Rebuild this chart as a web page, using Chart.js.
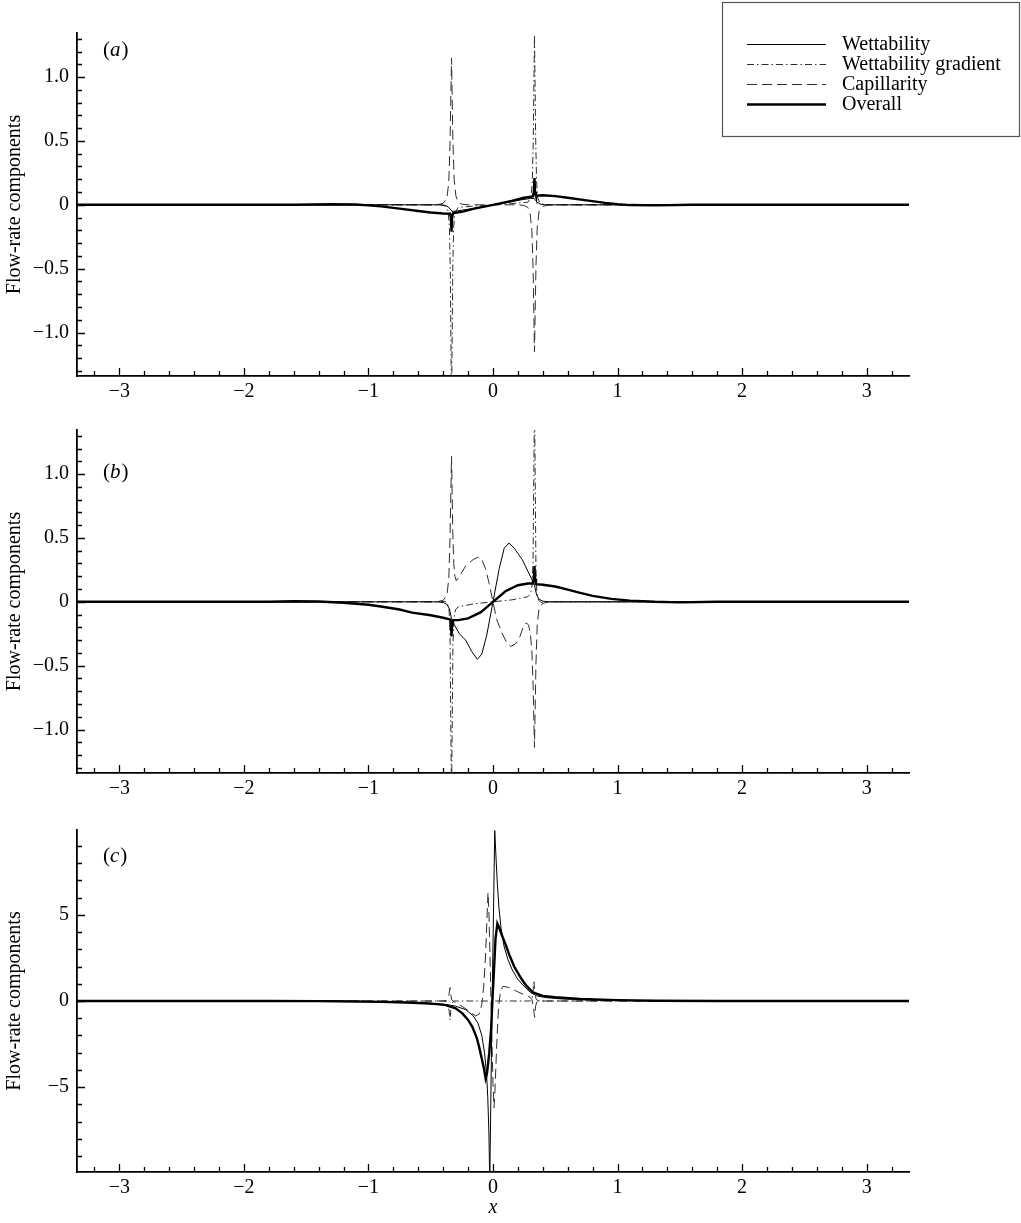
<!DOCTYPE html>
<html>
<head>
<meta charset="utf-8">
<script src="https://cdn.jsdelivr.net/npm/chart.js@4.4.1/dist/chart.umd.min.js"></script>
<style>
  html, body { margin: 0; padding: 0; background: #fff; }
  #wrap { position: relative; width: 1021px; height: 1223px; }
  canvas { position: absolute; left: 0; }
</style>
</head>
<body>
<div id="wrap">
  <canvas id="panel-a" width="1021" height="410" style="top:0"></canvas>
  <canvas id="panel-b" width="1021" height="400" style="top:410px"></canvas>
  <canvas id="panel-c" width="1021" height="413" style="top:810px"></canvas>
</div>
<script>
// Séries et axes
const SERIES = ['Wettability', 'Wettability gradient', 'Capillarity', 'Overall'];
const X_TICKS = [-3, -2, -1, 0, 1, 2, 3];
const X_LABELS = ['\u22123', '\u22122', '\u22121', '0', '1', '2', '3'];
const Y_TICKS_AB = [-1, -0.5, 0, 0.5, 1];
const Y_LABELS_AB = ['\u22121.0', '\u22120.5', '0', '0.5', '1.0'];
const Y_TICKS_C = [-5, 0, 5];
const Y_LABELS_C = ['\u22125', '0', '5'];

// Panneau (a)
const wetA = [[-3.34,0],[-0.42,0],[-0.38,-0.005],[-0.355,-0.02],[-0.338,-0.04],[-0.33,-0.05],[-0.3,-0.05],[-0.2,-0.035],[-0.1,-0.018],[0,0],[0.1,0.018],[0.2,0.035],[0.3,0.05],[0.33,0.05],[0.338,0.04],[0.355,0.02],[0.38,0.005],[0.42,0],[3.34,0]];
const gradA = [[-3.34,0],[-0.42,0],[-0.38,-0.01],[-0.36,-0.05],[-0.35,-0.18],[-0.343,-0.5],[-0.333,-1.6],[-0.323,-0.5],[-0.316,-0.18],[-0.305,-0.06],[-0.28,-0.02],[-0.15,-0.01],[0,0],[0.15,0.01],[0.28,0.02],[0.305,0.06],[0.316,0.18],[0.323,0.5],[0.333,1.33],[0.343,0.5],[0.35,0.18],[0.36,0.05],[0.38,0.01],[0.42,0],[3.34,0]];
const capA = [[-3.34,0],[-0.45,0],[-0.4,0.012],[-0.37,0.05],[-0.355,0.18],[-0.345,0.48],[-0.333,1.15],[-0.322,0.5],[-0.312,0.2],[-0.298,0.07],[-0.28,0.02],[-0.25,0.005],[-0.2,0],[0.2,0],[0.25,-0.005],[0.28,-0.02],[0.298,-0.07],[0.312,-0.2],[0.322,-0.5],[0.333,-1.15],[0.345,-0.48],[0.355,-0.18],[0.37,-0.05],[0.4,-0.012],[0.45,0],[3.34,0]];
const overallA = [[-3.34,0],[-1.6,0],[-1.3,0.004],[-1.1,0.002],[-1.0,-0.004],[-0.9,-0.012],[-0.75,-0.03],[-0.6,-0.048],[-0.5,-0.06],[-0.4,-0.068],[-0.345,-0.07],[-0.338,-0.1],[-0.333,-0.21],[-0.328,-0.1],[-0.32,-0.065],[-0.25,-0.055],[-0.15,-0.03],[0,0],[0.15,0.03],[0.25,0.055],[0.32,0.065],[0.328,0.1],[0.333,0.21],[0.338,0.1],[0.345,0.072],[0.4,0.075],[0.5,0.068],[0.6,0.055],[0.75,0.035],[0.9,0.015],[1.0,0.004],[1.1,-0.002],[1.3,-0.004],[1.6,0],[3.34,0]];

// Panneau (b)
const wetB = [[-3.34,0],[-0.45,0],[-0.4,-0.005],[-0.37,-0.02],[-0.35,-0.055],[-0.333,-0.13],[-0.31,-0.18],[-0.27,-0.25],[-0.22,-0.3],[-0.17,-0.39],[-0.126,-0.45],[-0.09,-0.41],[-0.05,-0.26],[0,0],[0.05,0.26],[0.09,0.42],[0.128,0.46],[0.17,0.42],[0.235,0.33],[0.28,0.24],[0.315,0.17],[0.333,0.13],[0.35,0.055],[0.37,0.02],[0.4,0.005],[0.45,0],[3.34,0]];
const gradB = [[-3.34,0],[-0.42,0],[-0.385,0.005],[-0.365,-0.015],[-0.352,-0.07],[-0.345,-0.25],[-0.333,-1.6],[-0.322,-0.35],[-0.314,-0.13],[-0.3,-0.06],[-0.28,-0.04],[-0.15,-0.015],[0,0],[0.15,0.015],[0.28,0.04],[0.3,0.06],[0.314,0.13],[0.322,0.35],[0.333,1.6],[0.345,0.25],[0.352,0.07],[0.365,0.015],[0.385,-0.005],[0.42,0],[3.34,0]];
const capB = [[-3.34,0],[-0.45,0],[-0.4,0.012],[-0.37,0.05],[-0.355,0.18],[-0.345,0.5],[-0.333,1.14],[-0.323,0.55],[-0.315,0.3],[-0.306,0.2],[-0.295,0.165],[-0.27,0.2],[-0.22,0.28],[-0.16,0.33],[-0.12,0.35],[-0.09,0.33],[-0.06,0.26],[-0.03,0.14],[0,0],[0.03,-0.14],[0.075,-0.25],[0.11,-0.32],[0.142,-0.35],[0.18,-0.33],[0.21,-0.29],[0.245,-0.19],[0.265,-0.165],[0.285,-0.18],[0.3,-0.25],[0.312,-0.38],[0.322,-0.65],[0.333,-1.14],[0.345,-0.48],[0.355,-0.18],[0.37,-0.05],[0.4,-0.012],[0.45,0],[3.34,0]];
const overallB = [[-3.34,0],[-1.8,0],[-1.6,0.004],[-1.4,0.002],[-1.2,-0.007],[-1.0,-0.023],[-0.9,-0.037],[-0.75,-0.06],[-0.65,-0.085],[-0.5,-0.105],[-0.4,-0.125],[-0.345,-0.138],[-0.338,-0.18],[-0.333,-0.27],[-0.328,-0.18],[-0.32,-0.143],[-0.28,-0.143],[-0.2,-0.13],[-0.1,-0.083],[0,0],[0.1,0.083],[0.2,0.13],[0.28,0.143],[0.32,0.143],[0.328,0.18],[0.333,0.28],[0.338,0.18],[0.345,0.138],[0.4,0.134],[0.5,0.12],[0.6,0.095],[0.7,0.07],[0.8,0.046],[0.95,0.023],[1.1,0.009],[1.3,0],[1.5,-0.004],[1.8,0],[3.34,0]];

// Panneau (c)
const wetC = [[-3.34,0],[-1.8,0],[-1.4,-0.01],[-1.1,-0.025],[-0.9,-0.04],[-0.7,-0.07],[-0.55,-0.11],[-0.45,-0.15],[-0.38,-0.2],[-0.3,-0.3],[-0.22,-0.5],[-0.16,-0.85],[-0.12,-1.3],[-0.09,-2.0],[-0.068,-3.0],[-0.052,-4.2],[-0.042,-5.6],[-0.033,-7.6],[-0.026,-10.5],[-0.007,0],[0.014,9.9],[0.025,8.2],[0.035,6.8],[0.048,5.4],[0.065,4.2],[0.088,3.2],[0.12,2.4],[0.155,1.8],[0.2,1.25],[0.25,0.85],[0.3,0.5],[0.35,0.3],[0.42,0.2],[0.55,0.12],[0.75,0.07],[1.0,0.04],[1.3,0.015],[1.8,0],[3.34,0]];
const gradC = [[-3.34,0],[-0.42,0],[-0.375,-0.03],[-0.36,-0.2],[-0.352,-0.6],[-0.345,-1.1],[-0.338,-0.45],[-0.328,-0.1],[-0.31,0],[0.3,0],[0.313,0.1],[0.321,0.45],[0.328,1.2],[0.336,0.5],[0.345,0.12],[0.36,0.02],[0.4,0],[3.34,0]];
const capC = [[-3.34,0],[-0.42,0],[-0.375,0.03],[-0.36,0.15],[-0.352,0.45],[-0.345,0.78],[-0.338,0.3],[-0.33,0.05],[-0.31,-0.05],[-0.26,-0.25],[-0.2,-0.55],[-0.14,-0.87],[-0.11,-0.75],[-0.09,-0.2],[-0.075,0.8],[-0.06,2.6],[-0.05,4.5],[-0.04,6.3],[-0.033,5.2],[-0.022,2.0],[-0.01,-2.0],[0,-4.8],[0.008,-6.2],[0.016,-5.2],[0.03,-2.5],[0.045,-0.3],[0.06,0.55],[0.08,0.85],[0.12,0.8],[0.18,0.6],[0.24,0.4],[0.29,0.25],[0.313,0.1],[0.321,-0.25],[0.328,-0.6],[0.334,-0.95],[0.342,-0.3],[0.352,-0.05],[0.38,0],[3.34,0]];
const overallC = [[-3.34,0],[-1.8,0],[-1.4,-0.01],[-1.1,-0.03],[-0.9,-0.05],[-0.7,-0.085],[-0.55,-0.13],[-0.45,-0.18],[-0.38,-0.24],[-0.3,-0.42],[-0.246,-0.72],[-0.2,-1.1],[-0.166,-1.5],[-0.13,-2.15],[-0.112,-2.65],[-0.09,-3.35],[-0.072,-3.95],[-0.059,-4.5],[-0.048,-4.2],[-0.03,-3.0],[-0.015,-1.6],[-0.005,0],[0.008,1.8],[0.02,3.6],[0.035,4.5],[0.05,4.25],[0.07,3.85],[0.1,3.3],[0.13,2.7],[0.17,2.0],[0.21,1.5],[0.26,0.95],[0.32,0.5],[0.4,0.3],[0.5,0.22],[0.7,0.12],[1.0,0.05],[1.3,0.018],[1.8,0],[3.34,0]];

const SERIF = '"Liberation Serif", "Times New Roman", serif';
const STYLES = [
    { color: '#000', width: 1, dash: [] },
    { color: '#2e2e2e', width: 1, dash: [7, 3, 1.5, 3] },
    { color: '#2e2e2e', width: 1, dash: [10, 5] },
    { color: '#000', width: 2.4, dash: [] }
];
const PLOT_LEFT = 77;
const PLOT_RIGHT = 909;

// Petites graduations tournées vers l'intérieur
const tickMarks = {
    id: 'tickMarks',
    afterDatasetsDraw(chart, args, opts) {
        const { ctx, chartArea: a, scales: { x, y } } = chart;
        ctx.save();
        ctx.strokeStyle = '#000';
        ctx.lineWidth = 1.3;
        ctx.beginPath();
        const mark = (v, majors, scale, isX) => {
            const major = majors.some(m => Math.abs(m - v) < 1e-9);
            const len = major ? 8 : 5;
            const p = Math.round(scale.getPixelForValue(v)) + 0.5;
            if (isX) { ctx.moveTo(p, a.bottom); ctx.lineTo(p, a.bottom - len); }
            else { ctx.moveTo(a.left, p); ctx.lineTo(a.left + len, p); }
        };
        for (let k = Math.ceil(x.min / opts.xStep); k * opts.xStep <= x.max; k++) {
            mark(k * opts.xStep, X_TICKS, x, true);
        }
        for (let k = Math.ceil(y.min / opts.yStep + 1e-9); k * opts.yStep <= y.max; k++) {
            mark(k * opts.yStep, opts.yMajors, y, false);
        }
        ctx.stroke();
        ctx.restore();
    }
};

// Étiquette du panneau : (a), (b), (c)
const panelLabel = {
    id: 'panelLabel',
    afterDraw(chart, args, opts) {
        const { ctx } = chart;
        ctx.save();
        ctx.fillStyle = '#000';
        ctx.textBaseline = 'middle';
        let x = opts.x;
        ctx.font = '21px ' + SERIF;
        ctx.fillText('(', x, opts.y);
        x += ctx.measureText('(').width;
        ctx.font = 'italic 21px ' + SERIF;
        ctx.fillText(opts.letter, x, opts.y);
        x += ctx.measureText(opts.letter).width + 1;
        ctx.font = '21px ' + SERIF;
        ctx.fillText(')', x, opts.y);
        ctx.restore();
    }
};

// Légende encadrée en haut à droite
const boxLegend = {
    id: 'boxLegend',
    afterDraw(chart, args, opts) {
        if (!opts.show) return;
        const { ctx } = chart;
        ctx.save();
        ctx.strokeStyle = '#555';
        ctx.lineWidth = 1.2;
        ctx.strokeRect(722.5, 2.5, 297, 134);
        ctx.font = '20px ' + SERIF;
        ctx.textBaseline = 'middle';
        ctx.fillStyle = '#000';
        const rows = [44, 64, 84, 104];
        SERIES.forEach((name, i) => {
            const s = STYLES[i];
            ctx.beginPath();
            ctx.strokeStyle = s.color;
            ctx.lineWidth = s.width;
            ctx.setLineDash(s.dash);
            ctx.moveTo(747, rows[i] + 0.5);
            ctx.lineTo(826, rows[i] + 0.5);
            ctx.stroke();
            ctx.setLineDash([]);
            ctx.fillText(name, 842, rows[i] + 1);
        });
        ctx.restore();
    }
};

function buildPanel(canvasId, cfg) {
    const canvas = document.getElementById(canvasId);
    const H = canvas.height;
    const font = { family: SERIF, size: 20 };
    const datasets = cfg.series.map((pts, i) => ({
        label: SERIES[i],
        data: pts.map(([x, y]) => ({ x, y })),
        borderColor: STYLES[i].color,
        borderWidth: STYLES[i].width,
        borderDash: STYLES[i].dash,
        pointRadius: 0,
        tension: 0,
        fill: false,
        order: i === 3 ? 0 : i + 1
    }));

    return new Chart(canvas, {
        type: 'line',
        data: { datasets },
        options: {
            responsive: false,
            animation: false,
            devicePixelRatio: 1,
            events: [],
            layout: { padding: { top: cfg.top, right: 1021 - PLOT_RIGHT, left: 0, bottom: 0 } },
            plugins: {
                legend: { display: false },
                tooltip: { enabled: false },
                tickMarks: { xStep: 0.2, yStep: cfg.yStep, yMajors: cfg.yTicks },
                panelLabel: cfg.label,
                boxLegend: { show: !!cfg.legend }
            },
            scales: {
                x: {
                    type: 'linear',
                    min: -3.34,
                    max: 3.34,
                    afterFit: s => { s.height = H - cfg.bottom; },
                    afterBuildTicks: s => { s.ticks = X_TICKS.map(v => ({ value: v })); },
                    ticks: {
                        autoSkip: false, maxRotation: 0, padding: 4, color: '#000', font,
                        callback: v => X_LABELS[X_TICKS.indexOf(v)]
                    },
                    grid: { display: false, drawTicks: false },
                    border: { display: true, color: '#000', width: 1.8 },
                    title: {
                        display: !!cfg.xTitle, text: 'x', color: '#000',
                        font: { family: SERIF, size: 20, style: 'italic' },
                        padding: { top: 0, bottom: 3 }
                    }
                },
                y: {
                    type: 'linear',
                    min: cfg.yMin,
                    max: cfg.yMax,
                    afterFit: s => { s.width = PLOT_LEFT; },
                    afterBuildTicks: s => { s.ticks = cfg.yTicks.map(v => ({ value: v })); },
                    ticks: {
                        autoSkip: false, padding: 8, color: '#000', font,
                        callback: v => cfg.yLabels[cfg.yTicks.indexOf(v)]
                    },
                    grid: { display: false, drawTicks: false },
                    border: { display: true, color: '#000', width: 1.8 },
                    title: {
                        display: true, text: 'Flow-rate components', color: '#000',
                        font: { family: SERIF, size: 20 },
                        padding: { top: 3, bottom: 0 }
                    }
                }
            }
        },
        plugins: [tickMarks, panelLabel, boxLegend]
    });
}

buildPanel('panel-a', {
    series: [wetA, gradA, capA, overallA],
    top: 33, bottom: 376, yMin: -1.34, yMax: 1.345, yStep: 0.1,
    yTicks: Y_TICKS_AB, yLabels: Y_LABELS_AB,
    label: { letter: 'a', x: 103, y: 50 }, legend: true
});
buildPanel('panel-b', {
    series: [wetB, gradB, capB, overallB],
    top: 20, bottom: 363, yMin: -1.34, yMax: 1.345, yStep: 0.1,
    yTicks: Y_TICKS_AB, yLabels: Y_LABELS_AB,
    label: { letter: 'b', x: 103, y: 62 }
});
buildPanel('panel-c', {
    series: [wetC, gradC, capC, overallC],
    top: 18, bottom: 362, yMin: -9.93, yMax: 9.93, yStep: 1,
    yTicks: Y_TICKS_C, yLabels: Y_LABELS_C,
    label: { letter: 'c', x: 103, y: 46 }, xTitle: true
});
</script>
</body>
</html>
